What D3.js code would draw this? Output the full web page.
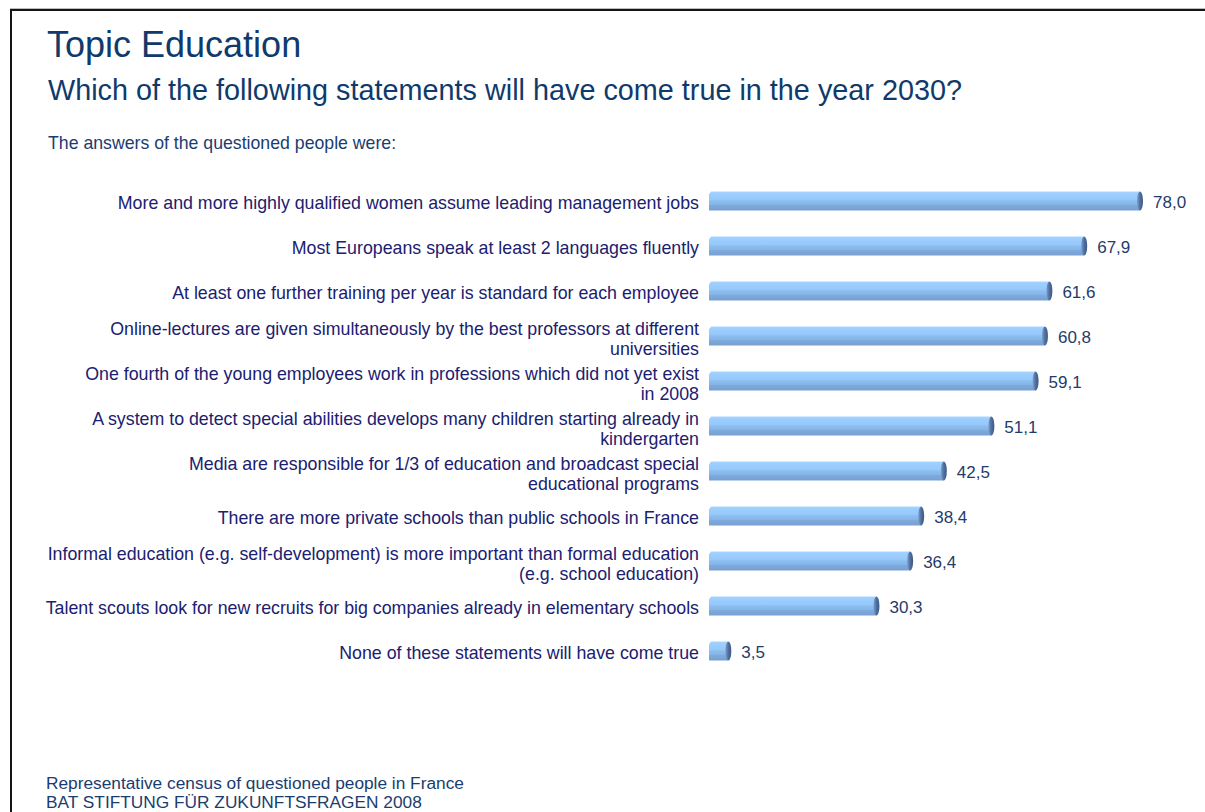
<!DOCTYPE html>
<html>
<head>
<meta charset="utf-8">
<script src="https://cdn.jsdelivr.net/npm/d3@7"></script>
<style>
  html, body { margin: 0; padding: 0; background: #fff; }
  svg { display: block; font-family: "Liberation Sans", Arial, sans-serif; }
</style>
</head>
<body>
<svg id="chart" width="1205" height="812"></svg>
<script>
// Survey statements (line breaks as shown in the labels)
const categories = [
  ["More and more highly qualified women assume leading management jobs"],
  ["Most Europeans speak at least 2 languages fluently"],
  ["At least one further training per year is standard for each employee"],
  ["Online-lectures are given simultaneously by the best professors at different", "universities"],
  ["One fourth of the young employees work in professions which did not yet exist", "in 2008"],
  ["A system to detect special abilities develops many children starting already in", "kindergarten"],
  ["Media are responsible for 1/3 of education and broadcast special", "educational programs"],
  ["There are more private schools than public schools in France"],
  ["Informal education (e.g. self-development) is more important than formal education", "(e.g. school education)"],
  ["Talent scouts look for new recruits for big companies already in elementary schools"],
  ["None of these statements will have come true"]
];
// Share of respondents (%)
const values = [78.0, 67.9, 61.6, 60.8, 59.1, 51.1, 42.5, 38.4, 36.4, 30.3, 3.5];

const titleText = "Topic Education";
const subtitleText = "Which of the following statements will have come true in the year 2030?";
const introText = "The answers of the questioned people were:";
const footerLines = ["Representative census of questioned people in France", "BAT STIFTUNG FÜR ZUKUNFTSFRAGEN 2008"];

const fmt = v => d3.format(".1f")(v).replace(".", ",");

const svg = d3.select("#chart");
const W = 1205, H = 812;

// Gradients for the cylinder-looking bars
const defs = svg.append("defs");
const gBar = defs.append("linearGradient").attr("id", "barGrad")
  .attr("x1", 0).attr("y1", 0).attr("x2", 0).attr("y2", 1);
[[0, "#a9d5ff"], [0.1, "#9dcfff"], [0.42, "#96c8fb"], [0.5, "#8cbdf0"], [0.68, "#86b6e8"], [0.72, "#7eabdc"], [1, "#779fd0"]]
  .forEach(([o, c]) => gBar.append("stop").attr("offset", o).attr("stop-color", c));
const gCap = defs.append("linearGradient").attr("id", "capGrad")
  .attr("x1", 0).attr("y1", 0).attr("x2", 1).attr("y2", 0);
[[0, "#7d9fcc"], [0.5, "#4f6f9f"], [1, "#3c5885"]]
  .forEach(([o, c]) => gCap.append("stop").attr("offset", o).attr("stop-color", c));

// Frame
svg.append("line").attr("x1", 10).attr("x2", W).attr("y1", 8.5).attr("y2", 8.5)
  .attr("stroke", "#bdbdbd").attr("stroke-width", 1);
svg.append("path").attr("d", `M11,${H + 5} V10 H${W + 5}`)
  .attr("fill", "none").attr("stroke", "#151515").attr("stroke-width", 2);

// Headings
svg.append("text").attr("x", 47).attr("y", 57).attr("font-size", 36)
  .attr("fill", "#0f3a6c").text(titleText);
svg.append("text").attr("x", 48).attr("y", 100).attr("font-size", 28.8)
  .attr("fill", "#0f3a6c").text(subtitleText);
svg.append("text").attr("x", 48).attr("y", 149).attr("font-size", 17.7)
  .attr("fill", "#1a3d70").text(introText);

// Scales
const rows = d3.range(values.length);
const y = d3.scalePoint().domain(rows).range([201, 651]);
const x = d3.scaleLinear().domain([0, d3.max(values)]).range([709, 1140]);
const barH = 19, capR = 3;

const row = svg.append("g").selectAll("g").data(rows).join("g")
  .attr("transform", i => `translate(0,${y(i)})`);

// Category labels (right-aligned, wrapped)
row.append("text")
  .attr("text-anchor", "end")
  .attr("font-size", 17.8)
  .attr("fill", "#1b2070")
  .each(function (i) {
    const lines = categories[i];
    const t = d3.select(this);
    lines.forEach((ln, k) => {
      t.append("tspan").attr("x", 699)
        .attr("y", 7.5 - (lines.length - 1) * 9 + k * 20)
        .text(ln);
    });
  });

// Bar body
row.append("path")
  .attr("d", i => {
    const x0 = x(0), x1 = x(values[i]), h = barH / 2;
    return `M${x0 + 2},${-h} H${x1} V${h} H${x0} V${-h + 3} Z`;
  })
  .attr("fill", "url(#barGrad)");

// Bar end cap
row.append("ellipse")
  .attr("cx", i => x(values[i]))
  .attr("cy", 0)
  .attr("rx", capR).attr("ry", barH / 2)
  .attr("fill", "url(#capGrad)");

// Value labels
row.append("text")
  .attr("x", i => x(values[i]) + 13)
  .attr("y", 6.5)
  .attr("font-size", 17)
  .attr("fill", "#1f3c6c")
  .text(i => fmt(values[i]));

// Footer
svg.append("g").selectAll("text").data(footerLines).join("text")
  .attr("x", 46).attr("y", (d, k) => 789 + k * 19)
  .attr("font-size", 17.3).attr("fill", "#1a3d70")
  .text(d => d);
</script>
</body>
</html>
